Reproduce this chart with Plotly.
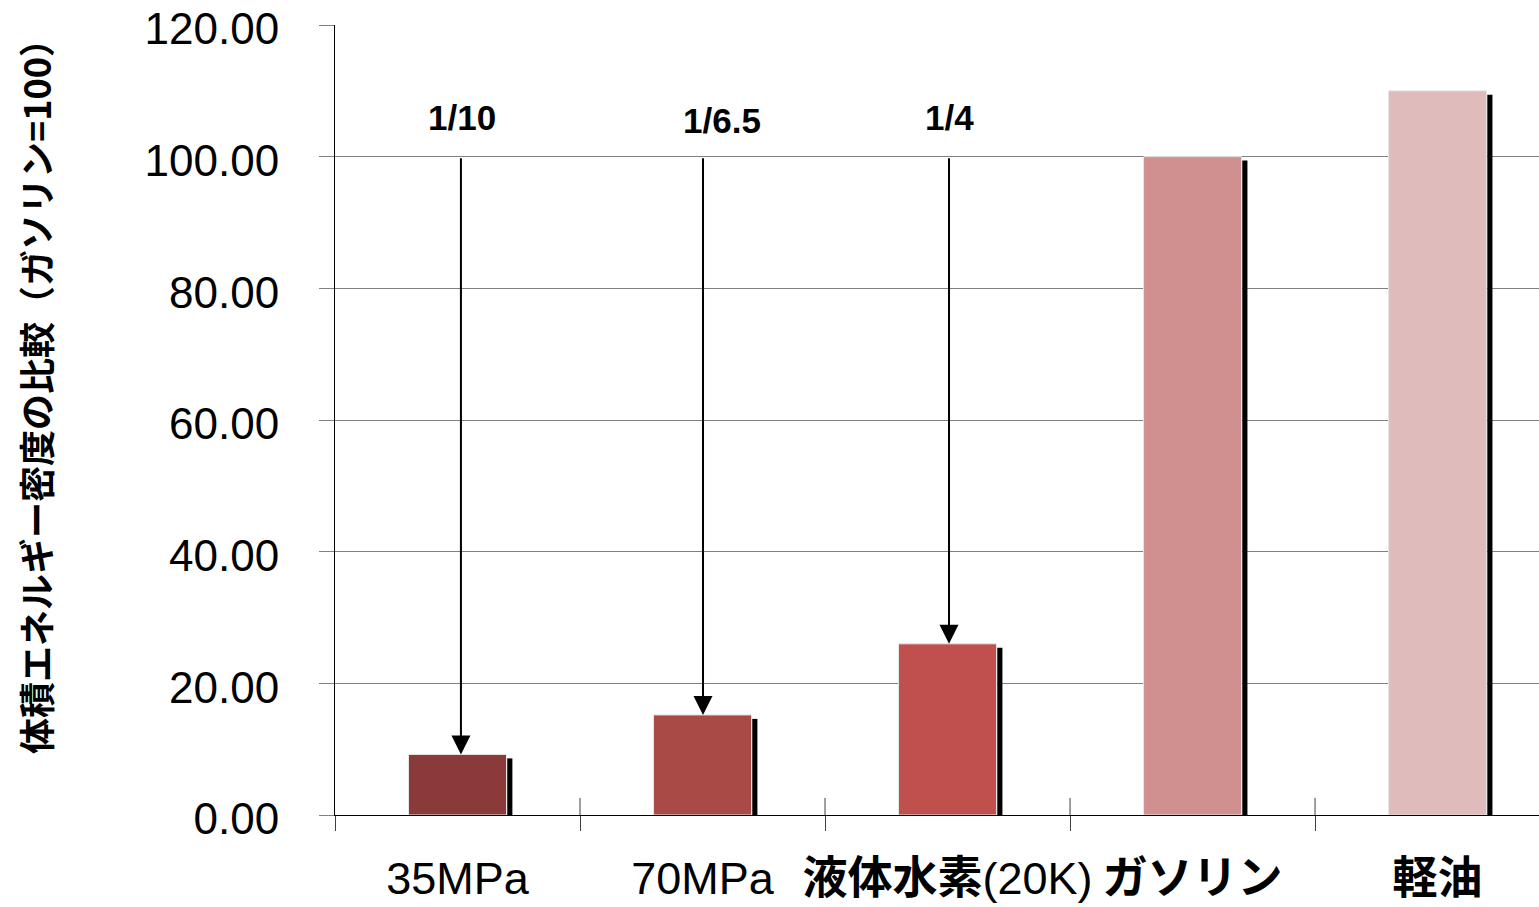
import plotly.graph_objects as go

# Volumetric energy density, gasoline = 100
categories = ["35MPa", "70MPa", "液体水素(20K)", "ガソリン", "軽油"]
values = [9.2, 15.2, 26.0, 100.0, 110.0]
bar_colors = ["#8B3A3A", "#A94A47", "#C0504D", "#D09090", "#DFBBBB"]
ratio_labels = ["1/10", "1/6.5", "1/4"]
y_ticks = [0, 20, 40, 60, 80, 100, 120]

# tick labels: CJK parts rendered heavier
tick_text = ["35MPa", "70MPa", "<b>液体水素</b>(20K)", "<b>ガソリン</b>", "<b>軽油</b>"]

W, H = 1539, 907
L, R, T, B = 335, 0, 25, 92
plot_w, plot_h = W - L - R, H - T - B

fig = go.Figure()
fig.add_trace(go.Bar(
    x=categories, y=values, width=0.4,
    marker=dict(color=bar_colors, line=dict(color="#E6E6E6", width=1)),
    showlegend=False, hoverinfo="skip",
))

shapes = []
# drop shadow on the right side of each bar
for i, v in enumerate(values):
    shapes.append(dict(type="rect", xref="x", yref="y",
                       x0=i + 0.203, x1=i + 0.224, y0=0, y1=v - 0.6,
                       fillcolor="black", line=dict(width=0), layer="above"))
# upper part of category boundary ticks
for i in range(1, len(categories)):
    shapes.append(dict(type="line", xref="x", yref="y",
                       x0=i - 0.5, x1=i - 0.5, y0=0, y1=2.6,
                       line=dict(color="#404040", width=1)))

annotations = []
arrow_x = [0.014, 1.002, 2.006]
label_x = [0.02, 1.08, 2.01]
label_y = [106.0, 105.5, 106.0]
for i, lab in enumerate(ratio_labels):
    annotations.append(dict(
        x=arrow_x[i], y=values[i], ax=arrow_x[i], ay=100,
        xref="x", yref="y", axref="x", ayref="y",
        showarrow=True, arrowhead=2, arrowsize=1.9, arrowwidth=2,
        arrowcolor="black", text=""))
    annotations.append(dict(
        x=label_x[i], y=label_y[i], xref="x", yref="y", text=lab,
        showarrow=False,
        font=dict(family="Liberation Sans, Arial", size=35, color="black", weight="bold")))

# rotated axis title, positioned in pixels left of the plot area
annotations.append(dict(
    x=(35 - L) / plot_w, y=(H - B - 388) / plot_h, xref="paper", yref="paper",
    xanchor="center", yanchor="middle",
    text="体積エネルギー密度の比較（ガソリン=100）",
    showarrow=False, textangle=-90,
    font=dict(family="Noto Sans CJK JP", size=36, color="black", weight="bold")))

fig.update_layout(
    width=W, height=H,
    margin=dict(l=L, r=R, t=T, b=B),
    paper_bgcolor="white", plot_bgcolor="white",
    shapes=shapes, annotations=annotations,
    xaxis=dict(
        type="category", range=[-0.5, 4.414], automargin=False,
        tickmode="array", tickvals=categories, ticktext=tick_text, tickangle=0,
        tickson="boundaries", ticks="outside", ticklen=15, tickcolor="#404040",
        showline=True, linecolor="black", linewidth=1,
        showgrid=False, ticklabelstandoff=24,
        tickfont=dict(family="Liberation Sans, Noto Sans CJK JP", size=45, color="black"),
    ),
    yaxis=dict(
        range=[0, 120], tickvals=y_ticks, tickformat=".2f", automargin=False,
        ticks="outside", ticklen=15, tickcolor="#808080",
        showgrid=True, gridcolor="#808080", gridwidth=1,
        showline=True, linecolor="black", linewidth=1,
        zeroline=False, ticklabelstandoff=31, ticklabelshift=4,
        ticklabeloverflow="allow",
        tickfont=dict(family="Liberation Sans, Arial", size=44, color="black"),
    ),
)
fig.write_html("out.html")
